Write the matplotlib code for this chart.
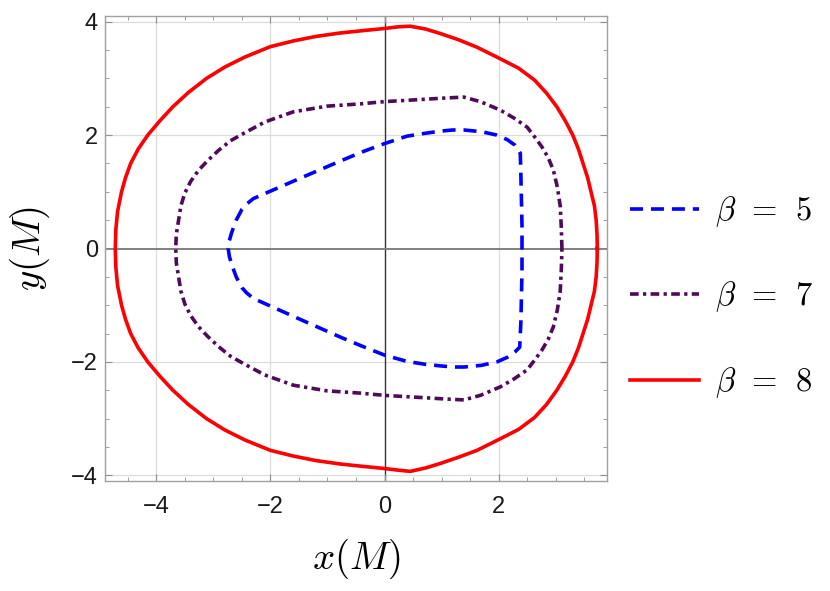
import matplotlib
matplotlib.use("Agg")
import matplotlib.pyplot as plt
import numpy as np

plt.rcParams['mathtext.fontset'] = 'cm'
plt.rcParams['font.family'] = ['Liberation Sans', 'DejaVu Sans']

# ---- data ----
labels = [r'$\beta\;\,=\;\,5$', r'$\beta\;\,=\;\,7$', r'$\beta\;\,=\;\,8$']

# beta = 5 (blue dashed)
b5_x_upper = [2.41, 2.41, 2.40, 2.39, 2.38, 2.29, 2.15, 1.97, 1.70, 1.39, 1.20, 0.98, 0.70, 0.39, 0.00,
              -0.40, -0.78, -1.50, -2.30, -2.42, -2.50, -2.60, -2.68, -2.72, -2.74]
b5_y_upper = [0.00, 0.40, 0.85, 1.30, 1.68, 1.82, 1.92, 2.00, 2.06, 2.09, 2.09, 2.07, 2.03, 1.98, 1.85,
              1.70, 1.54, 1.23, 0.88, 0.78, 0.69, 0.50, 0.28, 0.14, 0.00]
b5_x_lower = [-2.74, -2.72, -2.68, -2.60, -2.50, -2.42, -2.30, -1.50, -0.78, -0.40, 0.00, 0.39, 0.70,
              0.98, 1.20, 1.39, 1.70, 1.97, 2.15, 2.29, 2.37, 2.39, 2.40, 2.41, 2.41]
b5_y_lower = [0.00, -0.14, -0.28, -0.50, -0.69, -0.78, -0.88, -1.24, -1.56, -1.72, -1.88, -1.99, -2.04,
              -2.07, -2.09, -2.09, -2.06, -2.00, -1.92, -1.82, -1.74, -1.30, -0.85, -0.40, 0.00]

# beta = 7 (purple dot-dashed)
b7_x_upper = [3.11, 3.10, 3.08, 3.03, 2.96, 2.87, 2.76, 2.63, 2.50, 2.27, 2.03, 1.68, 1.39, 1.00,
              0.68, 0.00, -0.43, -1.01, -1.60, -2.10, -2.47, -2.70, -2.91, -3.10, -3.26, -3.40, -3.50,
              -3.57, -3.61, -3.65, -3.66]
b7_y_upper = [0.00, 0.35, 0.75, 1.08, 1.38, 1.60, 1.79, 1.97, 2.14, 2.30, 2.44, 2.59, 2.67, 2.65,
              2.63, 2.59, 2.55, 2.51, 2.41, 2.23, 2.03, 1.90, 1.73, 1.55, 1.38, 1.18, 0.98, 0.75,
              0.50, 0.25, 0.00]
b7_x_lower = [-3.66, -3.65, -3.61, -3.57, -3.50, -3.40, -3.26, -3.10, -2.91, -2.70, -2.47, -2.10, -1.60,
              -1.01, -0.43, 0.00, 0.68, 1.00, 1.39, 1.68, 2.03, 2.27, 2.50, 2.63, 2.76, 2.87, 2.96,
              3.03, 3.08, 3.10, 3.11]
b7_y_lower = [0.00, -0.25, -0.50, -0.75, -0.98, -1.18, -1.38, -1.55, -1.73, -1.90, -2.03, -2.23, -2.41,
              -2.51, -2.55, -2.59, -2.63, -2.65, -2.67, -2.59, -2.44, -2.30, -2.14, -1.97, -1.79,
              -1.60, -1.38, -1.08, -0.75, -0.35, 0.00]

# beta = 8 (red solid)
b8_x_upper = [3.73, 3.725, 3.71, 3.68, 3.62, 3.56, 3.48, 3.40, 3.30, 3.17, 3.02, 2.84, 2.63, 2.35,
              2.00, 1.62, 1.30, 0.98, 0.72, 0.45, 0.25, 0.00, -0.40, -0.78, -1.20, -1.60, -2.00,
              -2.44, -2.80, -3.12, -3.44, -3.71, -3.94, -4.15, -4.32, -4.45, -4.54, -4.61, -4.68,
              -4.71, -4.72]
b8_y_upper = [0.00, 0.25, 0.50, 0.75, 1.00, 1.25, 1.50, 1.75, 2.00, 2.25, 2.50, 2.74, 2.97, 3.18,
              3.36, 3.55, 3.68, 3.79, 3.87, 3.92, 3.91, 3.88, 3.84, 3.80, 3.74, 3.66, 3.56,
              3.38, 3.20, 3.00, 2.75, 2.50, 2.25, 2.00, 1.75, 1.50, 1.25, 1.00, 0.65, 0.33, 0.00]
b8_x_lower = [-4.72, -4.71, -4.68, -4.61, -4.54, -4.45, -4.32, -4.15, -3.94, -3.71, -3.44, -3.12, -2.80,
              -2.44, -2.00, -1.60, -1.20, -0.78, -0.40, 0.00, 0.25, 0.45, 0.72, 0.98, 1.30, 1.62, 2.00,
              2.35, 2.63, 2.84, 3.02, 3.17, 3.30, 3.40, 3.48, 3.56, 3.62, 3.68, 3.71, 3.725, 3.73]
b8_y_lower = [0.00, -0.33, -0.65, -1.00, -1.25, -1.50, -1.75, -2.00, -2.25, -2.50, -2.75, -3.00, -3.20,
              -3.38, -3.56, -3.66, -3.74, -3.80, -3.84, -3.88, -3.91, -3.93, -3.87, -3.79, -3.68,
              -3.56, -3.37, -3.19, -2.98, -2.75, -2.50, -2.25, -2.00, -1.75, -1.50, -1.25, -1.00,
              -0.75, -0.50, -0.25, 0.00]

x_ticks = [-4, -2, 0, 2]
y_ticks = [-4, -2, 0, 2, 4]

# ---- figure ----
fig = plt.figure(figsize=(8.30, 5.91), dpi=100)
ax = fig.add_axes([105 / 830, 1 - 481 / 591, (607 - 105) / 830, (481 - 16) / 591])

for xv in x_ticks:
    if xv != 0:
        ax.axvline(xv, color='#dcdcdc', lw=0.9, zorder=0)
for yv in y_ticks:
    if yv != 0:
        ax.axhline(yv, color='#dcdcdc', lw=0.9, zorder=0)
ax.axvline(0, color='#333333', lw=1.0, zorder=1)
ax.axhline(0, color='#808080', lw=1.4, zorder=1)

lw = 2.6
ax.plot(b5_x_upper + b5_x_lower, b5_y_upper + b5_y_lower, color='#0000FF', lw=lw,
        dashes=(3.6, 2.2), label=labels[0], zorder=3)
ax.plot(b7_x_upper + b7_x_lower, b7_y_upper + b7_y_lower, color='#500A5A', lw=lw,
        dashes=(2.4, 1.2, 0.9, 1.2), label=labels[1], zorder=3)
ax.plot(b8_x_upper + b8_x_lower, b8_y_upper + b8_y_lower, color='#FF0000', lw=lw,
        label=labels[2], zorder=3)

ax.set_xlim(-4.9, 3.9)
ax.set_ylim(-4.1, 4.1)
ax.set_xticks(x_ticks)
ax.set_yticks(y_ticks)
ax.set_xticklabels(['\u22124', '\u22122', '0', '2'])
ax.set_yticklabels(['\u22124', '\u22122', '0', '2', '4'])
ax.set_xticks(np.arange(-4.5, 4.0, 0.5), minor=True)
ax.set_yticks(np.arange(-4.0, 4.01, 0.5), minor=True)

for s in ax.spines.values():
    s.set_color('#a0a0a0')
    s.set_linewidth(1.0)
ax.tick_params(which='both', direction='in', top=True, right=True, color='#909090',
               labelsize=17, labelcolor='#1a1a1a')
ax.tick_params(which='major', length=5, width=0.8)
ax.tick_params(which='minor', length=3, width=0.6)
ax.tick_params(axis='x', which='major', pad=11)
ax.tick_params(axis='y', which='major', pad=5)

ax.set_xlabel(r'$x(M)$', fontsize=28, labelpad=13)
ax.set_ylabel(r'$y(M)$', fontsize=28, labelpad=14)

leg = ax.legend(loc='center left', bbox_to_anchor=(630 / 830, 1 - 297 / 591),
                bbox_transform=fig.transFigure, frameon=False, fontsize=23.5,
                handlelength=2.1, handletextpad=0.5, labelspacing=1.55,
                borderpad=0, borderaxespad=0)

fig.savefig('out.png', dpi=100)
